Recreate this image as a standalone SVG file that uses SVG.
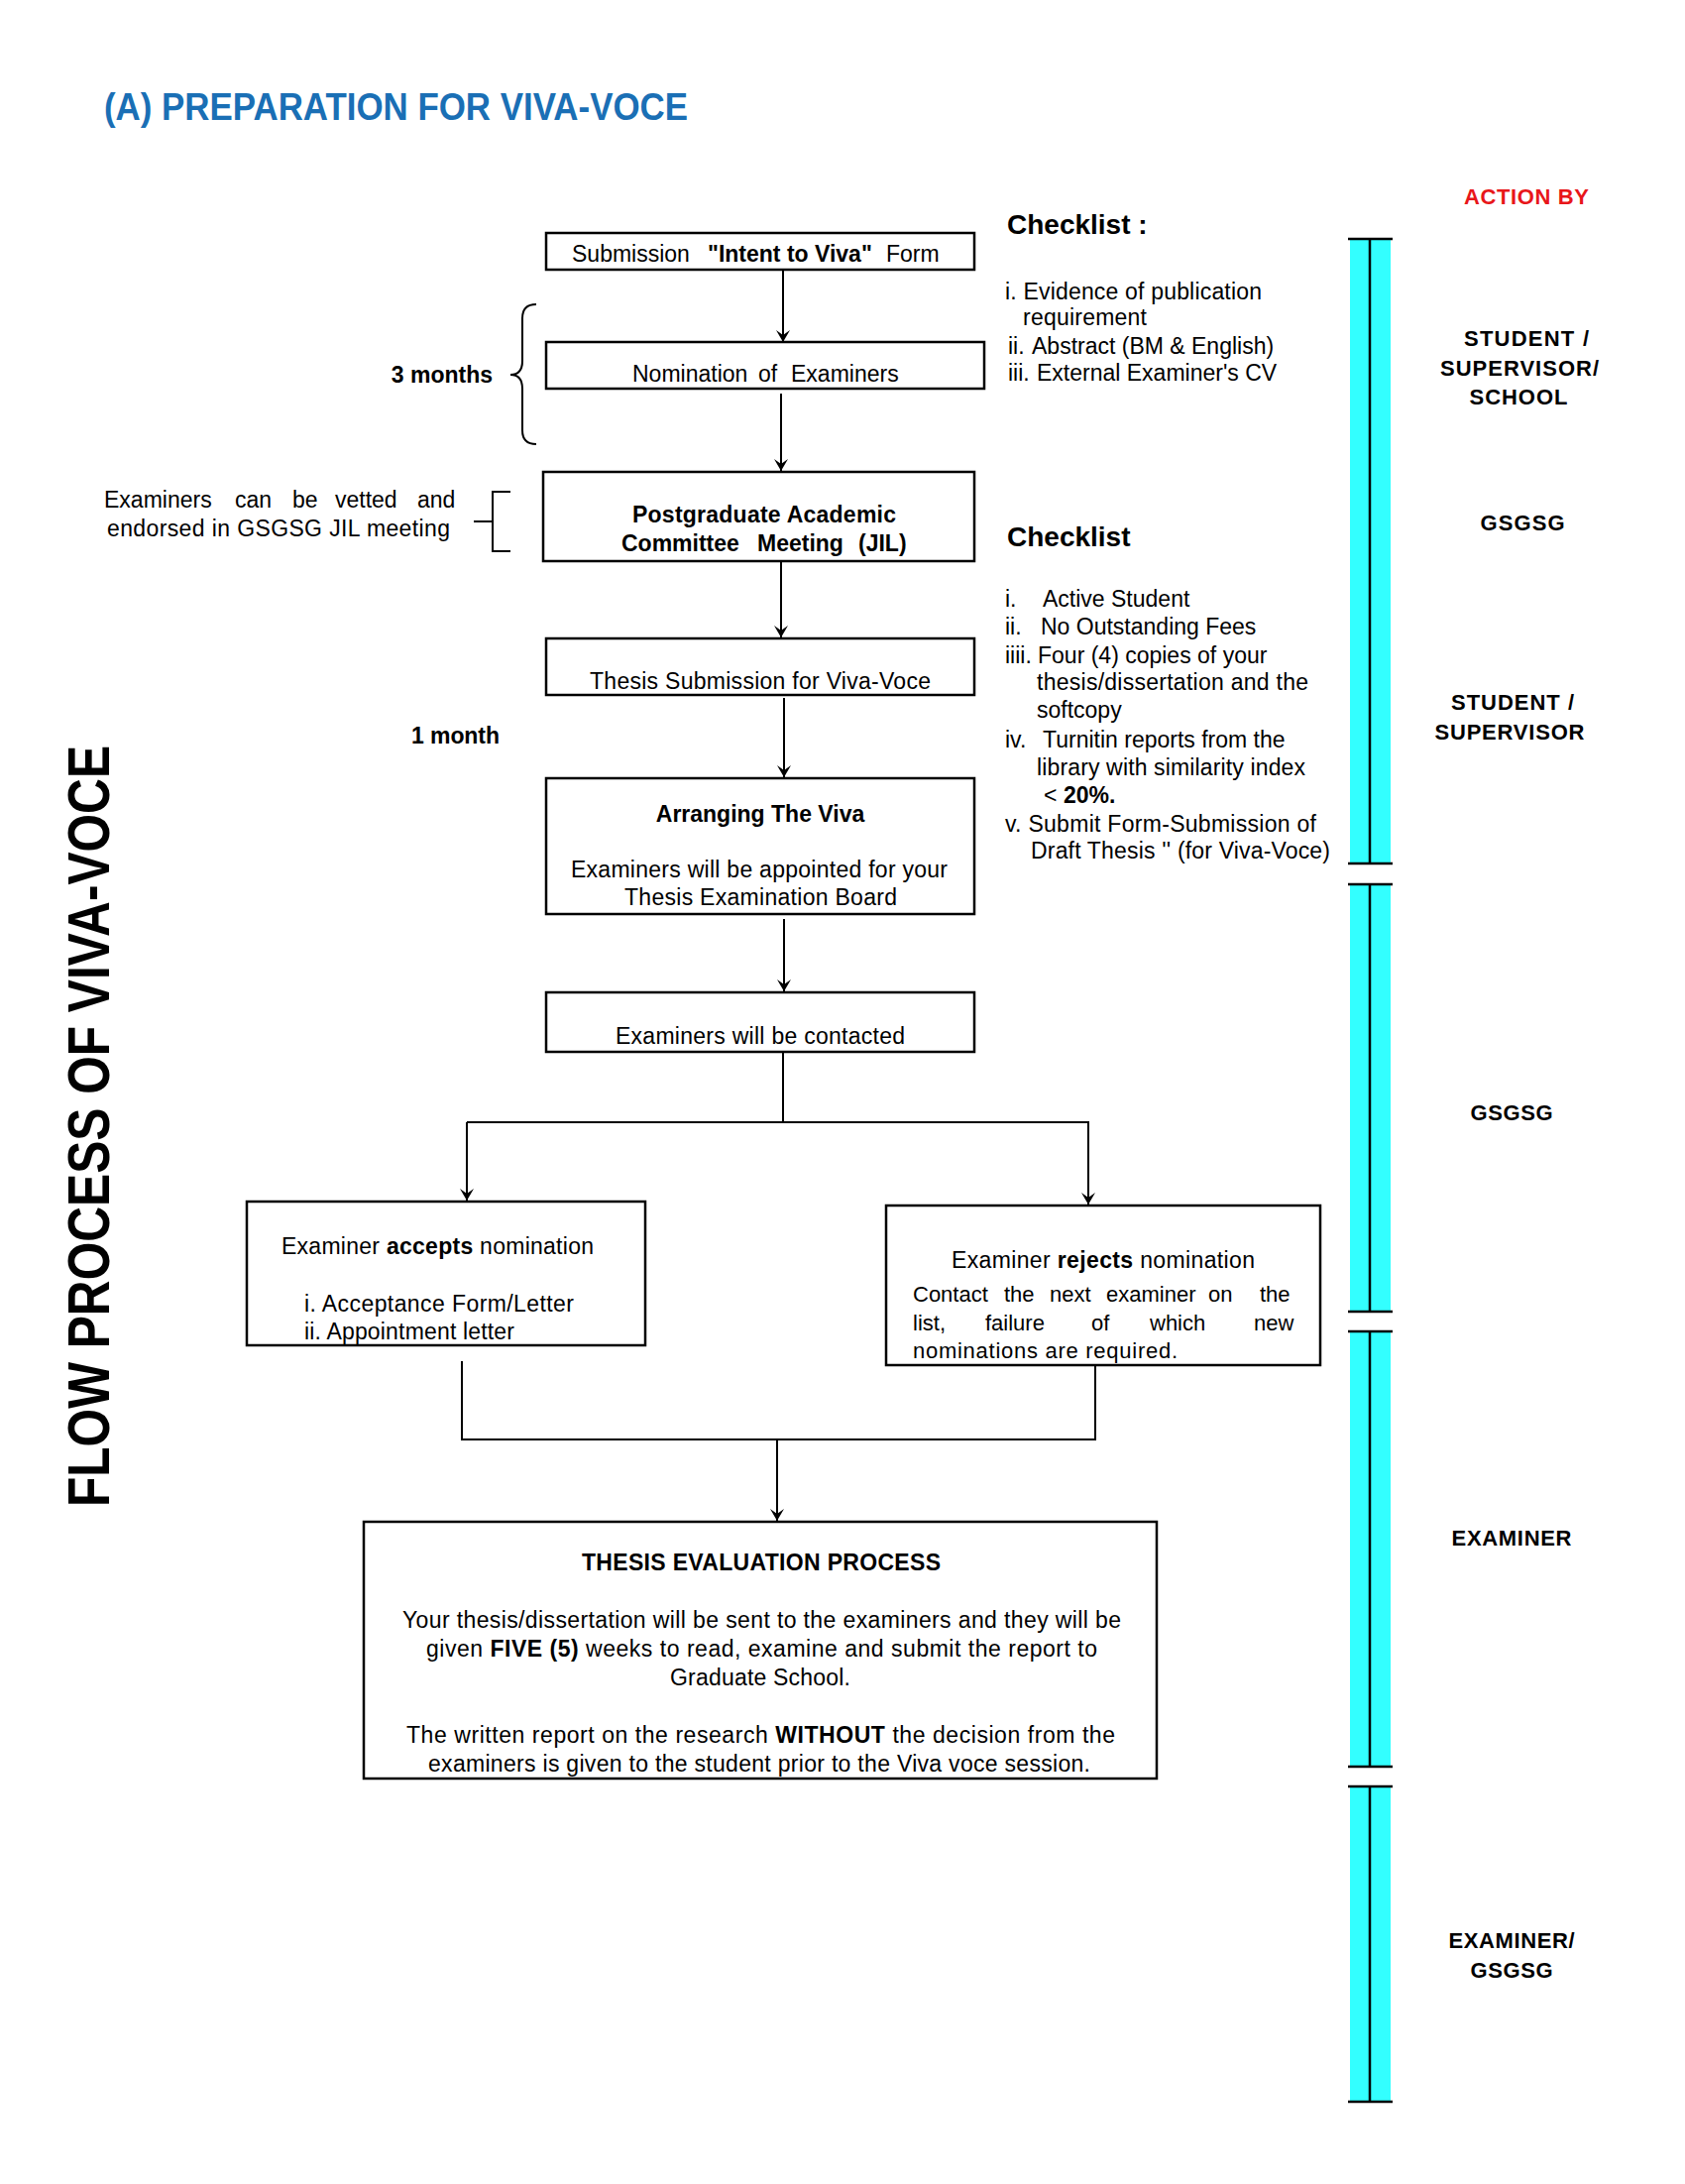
<svg xmlns="http://www.w3.org/2000/svg" width="1700" height="2203" viewBox="0 0 1700 2203">
<style>
text{font-family:"Liberation Sans",Arial,Helvetica,sans-serif;fill:#000}
.t{font-size:23px}
.s{font-size:22px}
.b{font-weight:bold}
.lab{font-size:22px;font-weight:bold}
.box{fill:#fff;stroke:#000;stroke-width:2.5}
.ln{fill:none;stroke:#000;stroke-width:2}
.bar{fill:#33ffff}
.bl{stroke:#000;stroke-width:2.5}
</style>
<defs>
<marker id="ah" viewBox="-13 -8 14 16" markerWidth="14" markerHeight="16" refX="0" refY="0" orient="auto" markerUnits="userSpaceOnUse">
<path d="M0,0 L-12,-7 L-7,0 L-12,7 Z" fill="#000"/>
</marker>
</defs>
<rect width="1700" height="2203" fill="#fff"/>

<text x="105" y="121" font-size="38" font-weight="bold" style="fill:#1a6fb5" textLength="589" lengthAdjust="spacingAndGlyphs">(A) PREPARATION FOR VIVA-VOCE</text>

<text transform="translate(110,1136) rotate(-90)" text-anchor="middle" font-size="59" font-weight="bold" textLength="768" lengthAdjust="spacingAndGlyphs">FLOW PROCESS OF VIVA-VOCE</text>

<g id="connectors">
<line class="ln" x1="790" y1="272" x2="790" y2="345" marker-end="url(#ah)"/>
<line class="ln" x1="788" y1="397" x2="788" y2="475" marker-end="url(#ah)"/>
<line class="ln" x1="788" y1="566" x2="788" y2="643" marker-end="url(#ah)"/>
<line class="ln" x1="791" y1="704" x2="791" y2="784" marker-end="url(#ah)"/>
<line class="ln" x1="791" y1="927" x2="791" y2="1000" marker-end="url(#ah)"/>
<polyline class="ln" points="790,1054 790,1132"/>
<polyline class="ln" points="471,1132 1098,1132 1098,1215" marker-end="url(#ah)"/>
<line class="ln" x1="471" y1="1132" x2="471" y2="1211" marker-end="url(#ah)"/>
<polyline class="ln" points="466,1373 466,1452 1105,1452 1105,1377"/>
<line class="ln" x1="784" y1="1452" x2="784" y2="1534" marker-end="url(#ah)"/>
<path class="ln" d="M541,307 Q527,307 527,321 V364 Q527,378 515,378 Q527,378 527,392 V434 Q527,448 541,448"/>
<path class="ln" d="M515,496 H497 V556 H515 M478,526 H497"/>
</g>

<g id="n-submission">
<rect class="box" x="551" y="235" width="432" height="37"/>
<text class="t" y="264"><tspan x="577">Submission</tspan><tspan x="714" class="b">"Intent to Viva"</tspan><tspan x="894">Form</tspan></text>
</g>

<g id="n-nomination">
<rect class="box" x="551" y="345" width="442" height="47"/>
<text class="t" y="385"><tspan x="638">Nomination</tspan><tspan x="765">of</tspan><tspan x="798">Examiners</tspan></text>
</g>

<g id="n-pac">
<rect class="box" x="548" y="476" width="435" height="90"/>
<text class="t b" x="771" y="527" text-anchor="middle" textLength="266">Postgraduate Academic</text>
<text class="t b" y="556"><tspan x="627">Committee</tspan><tspan x="764">Meeting</tspan><tspan x="866">(JIL)</tspan></text>
</g>

<g id="n-thesis-sub">
<rect class="box" x="551" y="644" width="432" height="57"/>
<text class="t" x="595" y="695" textLength="344">Thesis Submission for Viva-Voce</text>
</g>

<g id="n-arranging">
<rect class="box" x="551" y="785" width="432" height="137"/>
<text class="t b" x="767" y="829" text-anchor="middle">Arranging The Viva</text>
<text class="t" x="576" y="885" textLength="380">Examiners will be appointed for your</text>
<text class="t" x="630" y="913" textLength="275">Thesis Examination Board</text>
</g>

<g id="n-contacted">
<rect class="box" x="551" y="1001" width="432" height="60"/>
<text class="t" x="621" y="1053" textLength="292">Examiners will be contacted</text>
</g>

<g id="n-accepts">
<rect class="box" x="249" y="1212" width="402" height="145"/>
<text class="t" x="284" y="1265" textLength="315">Examiner <tspan class="b">accepts</tspan> nomination</text>
<text class="t" x="307" y="1323" textLength="272">i.  Acceptance Form/Letter</text>
<text class="t" x="307" y="1351" textLength="212">ii. Appointment letter</text>
</g>

<g id="n-rejects">
<rect class="box" x="894" y="1216" width="438" height="161"/>
<text class="t" x="960" y="1279" textLength="306">Examiner <tspan class="b">rejects</tspan> nomination</text>
<text class="s" y="1313"><tspan x="921">Contact</tspan><tspan x="1013">the</tspan><tspan x="1059">next</tspan><tspan x="1116">examiner</tspan><tspan x="1219">on</tspan><tspan x="1271">the</tspan></text>
<text class="s" y="1342"><tspan x="921">list,</tspan><tspan x="994">failure</tspan><tspan x="1101">of</tspan><tspan x="1160">which</tspan><tspan x="1265">new</tspan></text>
<text class="s" x="921" y="1370" textLength="267">nominations are required.</text>
</g>

<g id="n-evaluation">
<rect class="box" x="367" y="1535" width="800" height="259"/>
<text class="t b" x="587" y="1584" textLength="362">THESIS EVALUATION PROCESS</text>
<text class="t" x="406" y="1642" textLength="725">Your thesis/dissertation will be sent to the examiners and they will be</text>
<text class="t" x="430" y="1671" textLength="677">given <tspan class="b">FIVE (5)</tspan> weeks to read,  examine and submit the report to</text>
<text class="t" x="676" y="1700" textLength="182">Graduate School.</text>
<text class="t" x="410" y="1758" textLength="715">The written report on the research <tspan class="b">WITHOUT</tspan> the  decision from the</text>
<text class="t" x="432" y="1787" textLength="668">examiners is given to the student prior to the Viva voce session.</text>
</g>

<g id="n-3months">
<text class="t b" x="497" y="386" text-anchor="end">3 months</text>
</g>

<g id="n-vetted">
<text class="t" y="512"><tspan x="105">Examiners</tspan><tspan x="237">can</tspan><tspan x="295">be</tspan><tspan x="338">vetted</tspan><tspan x="421">and</tspan></text>
<text class="t" x="108" y="541" textLength="346">endorsed in GSGSG JIL meeting</text>
</g>

<g id="n-1month">
<text class="t b" x="415" y="750" textLength="89">1 month</text>
</g>

<g id="n-checklist1">
<text class="b" x="1016" y="236" font-size="28">Checklist :</text>
<text class="t" x="1014" y="302" textLength="259">i. Evidence of publication</text>
<text class="t" x="1032" y="328" textLength="125">requirement</text>
<text class="t" y="357"><tspan x="1017">ii.</tspan><tspan x="1041">Abstract (BM &amp; English)</tspan></text>
<text class="t" y="384"><tspan x="1017">iii.</tspan><tspan x="1046">External Examiner's CV</tspan></text>
</g>

<g id="n-checklist2">
<text class="b" x="1016" y="551" font-size="28">Checklist</text>
<text class="t" y="612"><tspan x="1014">i.</tspan><tspan x="1052">Active Student</tspan></text>
<text class="t" y="640"><tspan x="1014">ii.</tspan><tspan x="1050">No Outstanding Fees</tspan></text>
<text class="t" y="669"><tspan x="1014">iiii.</tspan><tspan x="1047">Four (4) copies of your</tspan></text>
<text class="t" x="1046" y="696" textLength="274">thesis/dissertation and the</text>
<text class="t" x="1046" y="724">softcopy</text>
<text class="t" y="754"><tspan x="1014">iv.</tspan><tspan x="1052">Turnitin reports from the</tspan></text>
<text class="t" x="1046" y="782" textLength="271">library with similarity index</text>
<text class="t" y="810"><tspan x="1053">&lt;</tspan><tspan x="1073" class="b">20%.</tspan></text>
<text class="t" x="1014" y="839" textLength="314">v. Submit Form-Submission of</text>
<text class="t" x="1040" y="866" textLength="302">Draft Thesis '' (for Viva-Voce)</text>
</g>

<g id="action-bar">
<rect class="bar" x="1362" y="241" width="41" height="630"/>
<rect class="bar" x="1362" y="892" width="41" height="431"/>
<rect class="bar" x="1362" y="1343" width="41" height="439"/>
<rect class="bar" x="1362" y="1802" width="41" height="318"/>
<path class="bl" d="M1382,241 V871 M1382,892 V1323 M1382,1343 V1782 M1382,1802 V2120 M1360,241 H1405 M1360,871 H1405 M1360,892 H1405 M1360,1323 H1405 M1360,1343 H1405 M1360,1782 H1405 M1360,1802 H1405 M1360,2120 H1405"/>
</g>

<g id="n-action-labels">
<text class="lab" x="1540" y="206" text-anchor="middle" style="fill:#e8161a" textLength="126">ACTION BY</text>
<text class="lab" x="1540" y="349" text-anchor="middle" textLength="126">STUDENT /</text>
<text class="lab" x="1533" y="379" text-anchor="middle" textLength="160">SUPERVISOR/</text>
<text class="lab" x="1532" y="408" text-anchor="middle" textLength="99">SCHOOL</text>
<text class="lab" x="1536" y="535" text-anchor="middle" textLength="85">GSGSG</text>
<text class="lab" x="1526" y="716" text-anchor="middle" textLength="124">STUDENT /</text>
<text class="lab" x="1523" y="746" text-anchor="middle" textLength="151">SUPERVISOR</text>
<text class="lab" x="1525" y="1130" text-anchor="middle" textLength="83">GSGSG</text>
<text class="lab" x="1525" y="1559" text-anchor="middle" textLength="121">EXAMINER</text>
<text class="lab" x="1525" y="1965" text-anchor="middle" textLength="127">EXAMINER/</text>
<text class="lab" x="1525" y="1995" text-anchor="middle" textLength="83">GSGSG</text>
</g>
</svg>
